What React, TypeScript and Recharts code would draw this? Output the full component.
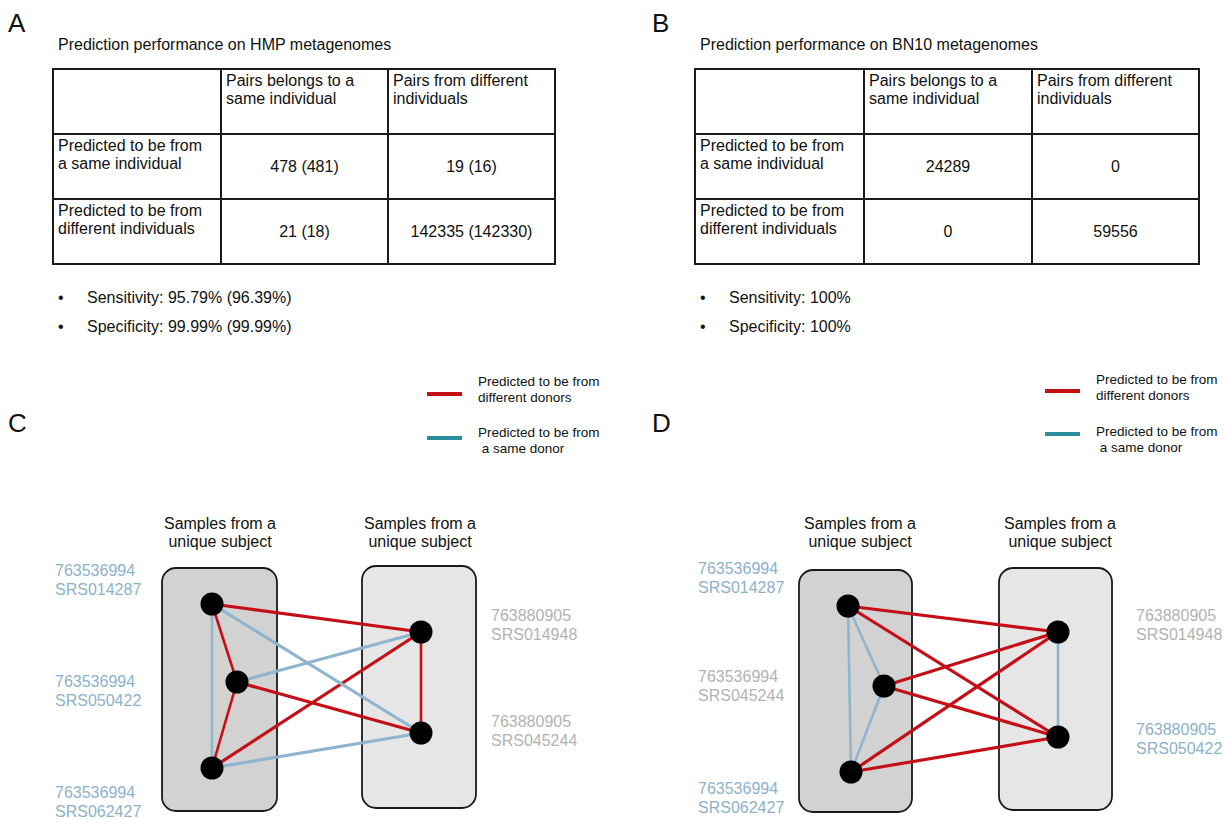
// Figure: prediction performance tables (A, B) and sample-pair networks (C, D).
// Tables are plain HTML; the two networks are Recharts scatter charts whose
// nodes, edges, boxes and labels all live in the figure's own coordinate space.

import { Legend, ReferenceArea, Scatter, ScatterChart, XAxis, YAxis } from 'recharts'

const FONT = '"Liberation Sans", Arial, Helvetica, sans-serif'

// ---------- panel A / B data ----------
const colHeads = ['Pairs belongs to a\nsame individual', 'Pairs from different\nindividuals']
const rowHeads = ['Predicted to be from\na same individual', 'Predicted to be from\ndifferent individuals']

const hmpCounts = [
  [478, 19],
  [21, 142335],
]
const hmpCountsAlt = [
  [481, 16],
  [18, 142330],
]
const hmpSensitivity = [95.79, 96.39]
const hmpSpecificity = [99.99, 99.99]

const bn10Counts = [
  [24289, 0],
  [0, 59556],
]
const bn10Sensitivity = [100]
const bn10Specificity = [100]

// ---------- panel C / D data (figure coordinates) ----------
type Node = { id: string; x: number; y: number }
type Kind = 'diff' | 'same'
type Edge = [string, string, Kind]
type Box = { side: 'L' | 'R'; x1: number; x2: number; y1: number; y2: number }
type IdLabel = { x: number; y: number; lines: string[]; hl: boolean }

const cNodes: Node[] = [
  { id: 'L1', x: 212, y: 604 },
  { id: 'L2', x: 237, y: 682 },
  { id: 'L3', x: 212, y: 768 },
  { id: 'R1', x: 421, y: 632 },
  { id: 'R2', x: 421, y: 733 },
]
const cEdges: Edge[] = [
  ['L1', 'L3', 'same'],
  ['L1', 'L2', 'diff'],
  ['L2', 'L3', 'diff'],
  ['L1', 'R1', 'diff'],
  ['L2', 'R2', 'diff'],
  ['L3', 'R1', 'diff'],
  ['L1', 'R2', 'same'],
  ['L2', 'R1', 'same'],
  ['L3', 'R2', 'same'],
  ['R1', 'R2', 'diff'],
]
const cBoxes: Box[] = [
  { side: 'L', x1: 162, x2: 277, y1: 568, y2: 811 },
  { side: 'R', x1: 362, x2: 476, y1: 566, y2: 808 },
]
const cIds: IdLabel[] = [
  { x: 55, y: 576, lines: ['763536994', 'SRS014287'], hl: true },
  { x: 55, y: 687, lines: ['763536994', 'SRS050422'], hl: true },
  { x: 55, y: 798, lines: ['763536994', 'SRS062427'], hl: true },
  { x: 491, y: 621, lines: ['763880905', 'SRS014948'], hl: false },
  { x: 491, y: 727, lines: ['763880905', 'SRS045244'], hl: false },
]
const cHeads = [
  { x: 220, y: 529, lines: ['Samples from a', 'unique subject'] },
  { x: 420, y: 529, lines: ['Samples from a', 'unique subject'] },
]

const dNodes: Node[] = [
  { id: 'L1', x: 848, y: 606 },
  { id: 'L2', x: 884, y: 686 },
  { id: 'L3', x: 851, y: 772 },
  { id: 'R1', x: 1058, y: 632 },
  { id: 'R2', x: 1058, y: 737 },
]
const dEdges: Edge[] = [
  ['L1', 'L3', 'same'],
  ['L1', 'L2', 'same'],
  ['L2', 'L3', 'same'],
  ['R1', 'R2', 'same'],
  ['L1', 'R1', 'diff'],
  ['L1', 'R2', 'diff'],
  ['L2', 'R1', 'diff'],
  ['L2', 'R2', 'diff'],
  ['L3', 'R1', 'diff'],
  ['L3', 'R2', 'diff'],
]
const dBoxes: Box[] = [
  { side: 'L', x1: 799, x2: 912, y1: 570, y2: 812 },
  { side: 'R', x1: 999, x2: 1112, y1: 568, y2: 810 },
]
const dIds: IdLabel[] = [
  { x: 698, y: 574, lines: ['763536994', 'SRS014287'], hl: true },
  { x: 698, y: 682, lines: ['763536994', 'SRS045244'], hl: false },
  { x: 698, y: 794, lines: ['763536994', 'SRS062427'], hl: true },
  { x: 1136, y: 621, lines: ['763880905', 'SRS014948'], hl: false },
  { x: 1136, y: 735, lines: ['763880905', 'SRS050422'], hl: true },
]
const dHeads = [
  { x: 860, y: 529, lines: ['Samples from a', 'unique subject'] },
  { x: 1060, y: 529, lines: ['Samples from a', 'unique subject'] },
]

const legendItems: { kind: Kind; lines: string[] }[] = [
  { kind: 'diff', lines: ['Predicted to be from', 'different donors'] },
  { kind: 'same', lines: ['Predicted to be from', ' a same donor'] },
]

// ---------- styles ----------
const EDGE: Record<Kind, string> = { diff: '#c40f16', same: '#8fb4cd' }
const LEGEND_LINE: Record<Kind, string> = { diff: '#c40f16', same: '#2b8e9f' }
const BOX_FILL = { L: '#d3d2d3', R: '#e6e6e6' }
const ID_BLUE = '#8db1c9'
const ID_GREY = '#b2b2b2'

const PANEL_W = 613
const PANEL_H = 459
const PANEL_TOP = 360

const fmtPair = (a: number, b: number) => `${a} (${b})`

function Letter({ ch, left, top }: { ch: string; left: number; top: number }) {
  return (
    <div style={{ position: 'absolute', left, top, fontSize: 26, lineHeight: '26px', color: '#111' }}>
      {ch}
    </div>
  )
}

function ConfusionTable({
  left,
  title,
  widths,
  cells,
  stats,
}: {
  left: number
  title: string
  widths: number[]
  cells: string[][]
  stats: string[]
}) {
  const cellBase: React.CSSProperties = {
    boxSizing: 'border-box',
    borderRight: '2px solid #1b1b1b',
    borderBottom: '2px solid #1b1b1b',
    height: 65,
    padding: '2px 4px 0 4px',
    whiteSpace: 'pre-line',
    lineHeight: '18px',
  }
  return (
    <>
      <div style={{ position: 'absolute', left: left + 6, top: 35, lineHeight: '19px' }}>{title}</div>
      <div
        style={{
          position: 'absolute',
          left,
          top: 68,
          borderLeft: '2px solid #1b1b1b',
          borderTop: '2px solid #1b1b1b',
          display: 'grid',
          gridTemplateColumns: widths.map((w) => `${w}px`).join(' '),
        }}
      >
        <div style={cellBase} />
        {colHeads.map((h) => (
          <div key={h} style={cellBase}>
            {h}
          </div>
        ))}
        {rowHeads.map((r, i) => (
          <>
            <div key={r} style={cellBase}>
              {r}
            </div>
            {cells[i].map((v, j) => (
              <div
                key={`${i}-${j}`}
                style={{
                  ...cellBase,
                  padding: 0,
                  display: 'flex',
                  alignItems: 'center',
                  justifyContent: 'center',
                }}
              >
                {v}
              </div>
            ))}
          </>
        ))}
      </div>
      {stats.map((s, i) => (
        <div key={s} style={{ position: 'absolute', left: left + 6, top: 288 + i * 29, lineHeight: '19px' }}>
          <span style={{ display: 'inline-block', width: 29 }}>•</span>
          {s}
        </div>
      ))}
    </>
  )
}

const Empty = () => <g />

const Dot = (p: any) => <circle cx={p.cx} cy={p.cy} r={11.5} fill="#000" />

const IdText = (p: any) => (
  <text x={p.cx} y={p.cy} fill={p.payload.hl ? ID_BLUE : ID_GREY} fontSize={16} fontFamily={FONT}>
    {p.payload.lines.map((l: string, i: number) => (
      <tspan key={i} x={p.cx} dy={i === 0 ? 0 : 18.5}>
        {l}
      </tspan>
    ))}
  </text>
)

const HeadText = (p: any) => (
  <text x={p.cx} y={p.cy} fill="#111" fontSize={16} fontFamily={FONT} textAnchor="middle">
    {p.payload.lines.map((l: string, i: number) => (
      <tspan key={i} x={p.cx} dy={i === 0 ? 0 : 18}>
        {l}
      </tspan>
    ))}
  </text>
)

function EdgeLegend({ gap, lineOffsets }: { gap: number; lineOffsets: number[] }) {
  return (
    <div style={{ position: 'relative', width: 190, height: 90, fontFamily: FONT, fontSize: 13.5, color: '#111' }}>
      {legendItems.map((it, i) => (
        <div key={it.kind} style={{ position: 'absolute', left: 0, top: i * gap, width: 190 }}>
          <div
            style={{
              position: 'absolute',
              left: 0,
              top: lineOffsets[i],
              width: 35,
              height: 3.5,
              background: LEGEND_LINE[it.kind],
            }}
          />
          <div style={{ position: 'absolute', left: 51, top: 0, lineHeight: '16px', whiteSpace: 'pre' }}>
            {it.lines.join('\n')}
          </div>
        </div>
      ))}
    </div>
  )
}

function Network({
  x0,
  nodes,
  edges,
  boxes,
  ids,
  heads,
  legendPos,
}: {
  x0: number
  nodes: Node[]
  edges: Edge[]
  boxes: Box[]
  ids: IdLabel[]
  heads: { x: number; y: number; lines: string[] }[]
  legendPos: { left: number; top: number; gap: number; lineOffsets: number[] }
}) {
  const byId = Object.fromEntries(nodes.map((n) => [n.id, n]))
  return (
    <ScatterChart width={PANEL_W} height={PANEL_H} margin={{ top: 0, right: 0, bottom: 0, left: 0 }}>
      <XAxis type="number" dataKey="x" domain={[x0, x0 + PANEL_W]} hide allowDataOverflow />
      <YAxis type="number" dataKey="y" domain={[PANEL_TOP, PANEL_TOP + PANEL_H]} reversed hide allowDataOverflow />
      {boxes.map((b) => (
        <ReferenceArea
          key={b.side}
          x1={b.x1}
          x2={b.x2}
          y1={b.y1}
          y2={b.y2}
          shape={(p: any) => (
            <rect
              x={p.x}
              y={p.y}
              width={p.width}
              height={p.height}
              rx={14}
              ry={14}
              fill={BOX_FILL[b.side]}
              stroke="#1a1a1a"
              strokeWidth={1.8}
            />
          )}
        />
      ))}
      {edges.map(([a, b, kind]) => (
        <Scatter
          key={`${a}-${b}`}
          data={[byId[a], byId[b]]}
          line={{ stroke: EDGE[kind], strokeWidth: a[0] === b[0] ? 2.6 : 3.2 }}
          shape={Empty}
          legendType="none"
          isAnimationActive={false}
        />
      ))}
      <Scatter data={nodes} shape={Dot} legendType="none" isAnimationActive={false} />
      <Scatter data={ids} shape={IdText} legendType="none" isAnimationActive={false} />
      <Scatter data={heads} shape={HeadText} legendType="none" isAnimationActive={false} />
      <Legend
        layout="vertical"
        align="center"
        verticalAlign="middle"
        wrapperStyle={{ left: legendPos.left, top: legendPos.top, width: 190, height: 90 }}
        content={() => <EdgeLegend gap={legendPos.gap} lineOffsets={legendPos.lineOffsets} />}
      />
    </ScatterChart>
  )
}

export default function App() {
  const hmpCells = hmpCounts.map((row, i) => row.map((v, j) => fmtPair(v, hmpCountsAlt[i][j])))
  const bnCells = bn10Counts.map((row) => row.map((v) => String(v)))
  return (
    <div
      style={{
        position: 'absolute',
        left: 0,
        top: 0,
        width: 1226,
        height: 819,
        background: '#fff',
        fontFamily: FONT,
        fontSize: 16,
        color: '#111',
        overflow: 'hidden',
      }}
    >
      <Letter ch="A" left={8} top={10} />
      <Letter ch="B" left={652} top={10} />
      <Letter ch="C" left={8} top={410} />
      <Letter ch="D" left={652} top={410} />

      <ConfusionTable
        left={52}
        title="Prediction performance on HMP metagenomes"
        widths={[168, 167, 167]}
        cells={hmpCells}
        stats={[
          `Sensitivity: ${hmpSensitivity[0]}% (${hmpSensitivity[1]}%)`,
          `Specificity: ${hmpSpecificity[0]}% (${hmpSpecificity[1]}%)`,
        ]}
      />
      <ConfusionTable
        left={694}
        title="Prediction performance on BN10 metagenomes"
        widths={[169, 168, 167]}
        cells={bnCells}
        stats={[`Sensitivity: ${bn10Sensitivity[0]}%`, `Specificity: ${bn10Specificity[0]}%`]}
      />

      <div style={{ position: 'absolute', left: 0, top: PANEL_TOP }}>
        <Network
          x0={0}
          nodes={cNodes}
          edges={cEdges}
          boxes={cBoxes}
          ids={cIds}
          heads={cHeads}
          legendPos={{ left: 427, top: 14, gap: 51, lineOffsets: [18, 11] }}
        />
      </div>
      <div style={{ position: 'absolute', left: PANEL_W, top: PANEL_TOP }}>
        <Network
          x0={PANEL_W}
          nodes={dNodes}
          edges={dEdges}
          boxes={dBoxes}
          ids={dIds}
          heads={dHeads}
          legendPos={{ left: 432, top: 12, gap: 52, lineOffsets: [17, 8] }}
        />
      </div>
    </div>
  )
}
